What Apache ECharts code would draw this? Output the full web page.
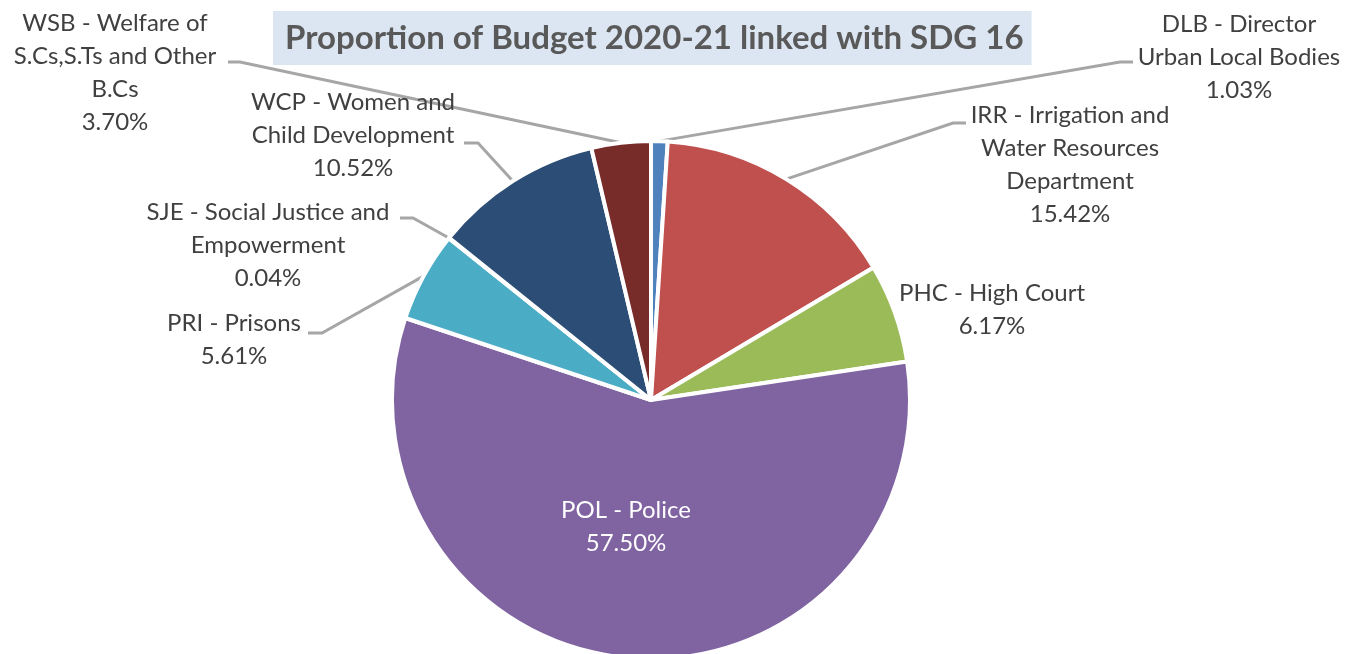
<!DOCTYPE html>
<html>
<head>
<meta charset="utf-8">
<script src="https://cdn.jsdelivr.net/npm/echarts@6/dist/echarts.min.js"></script>
<style>
html,body{margin:0;padding:0;background:#fff;}
#chart{width:1348px;height:654px;}
</style>
</head>
<body>
<div id="chart"></div>
<script>
// ---- data ----
const titleText = 'Proportion of Budget 2020-21 linked with SDG 16';
const categories = [
  'DLB - Director\nUrban Local Bodies',
  'IRR - Irrigation and\nWater Resources\nDepartment',
  'PHC - High Court',
  'POL - Police',
  'PRI - Prisons',
  'SJE - Social Justice and\nEmpowerment',
  'WCP - Women and\nChild Development',
  'WSB - Welfare of\nS.Cs,S.Ts and Other\nB.Cs'
];
const shares = [1.03, 15.42, 6.17, 57.50, 5.61, 0.04, 10.52, 3.70];
const colors = ['#4f81bd', '#c0504d', '#9bbb59', '#8064a2', '#4bacc6', '#f79646', '#2c4d75', '#772c2a'];

// ---- label layout (positions only) ----
const labelPos = [
  {x: 1239, y: 57,  bend: [1120, 62], end: [1133, 62]},
  {x: 1070, y: 165, bend: [953, 123], end: [966, 123]},
  {x: 992,  y: 310},
  {x: 626,  y: 527},
  {x: 234,  y: 340, bend: [322, 333], end: [308, 333]},
  {x: 268,  y: 245, bend: [413, 218], end: [400, 218]},
  {x: 353,  y: 135, bend: [478, 143], end: [464, 143]},
  {x: 115,  y: 73,  bend: [240, 62],  end: [228, 62]}
];

const FONT = 'Lato, "Open Sans", sans-serif';
const chart = echarts.init(document.getElementById('chart'), null, {renderer: 'canvas'});

const seriesData = categories.map((name, i) => {
  const item = {name: name, value: shares[i], itemStyle: {color: colors[i]}};
  if (i === 3) {
    item.label = {position: 'inside', color: '#ffffff'};
    item.labelLine = {show: false};
  } else if (!labelPos[i].bend) {
    item.labelLine = {show: false};
  }
  return item;
});

chart.setOption({
  backgroundColor: '#ffffff',
  animation: false,
  title: {
    text: titleText,
    left: 273,
    top: 11,
    padding: [10, 8, 10, 12],
    backgroundColor: '#dce6f2',
    textStyle: {
      fontFamily: FONT,
      fontSize: 33,
      lineHeight: 34,
      fontWeight: 'bold',
      color: '#595959'
    }
  },
  series: [{
    type: 'pie',
    center: [651, 400],
    radius: [0, 259],
    startAngle: 90,
    clockwise: true,
    avoidLabelOverlap: false,
    itemStyle: {borderColor: '#ffffff', borderWidth: 4},
    label: {
      show: true,
      position: 'outside',
      fontFamily: FONT,
      fontSize: 24,
      lineHeight: 33,
      color: '#404040',
      align: 'center',
      formatter: p => p.name + '\n' + p.value.toFixed(2) + '%'
    },
    labelLine: {
      show: true,
      length: 20,
      length2: 10,
      lineStyle: {color: '#a6a6a6', width: 3}
    },
    labelLayout: function (params) {
      const p = labelPos[params.dataIndex];
      const out = {x: p.x, y: p.y, align: 'center', verticalAlign: 'middle'};
      if (p.bend && params.labelLinePoints && params.labelLinePoints.length) {
        const start = params.labelLinePoints[0];
        out.labelLinePoints = [[start[0], start[1]], p.bend, p.end];
      }
      return out;
    },
    data: seriesData
  }]
});
</script>
</body>
</html>
